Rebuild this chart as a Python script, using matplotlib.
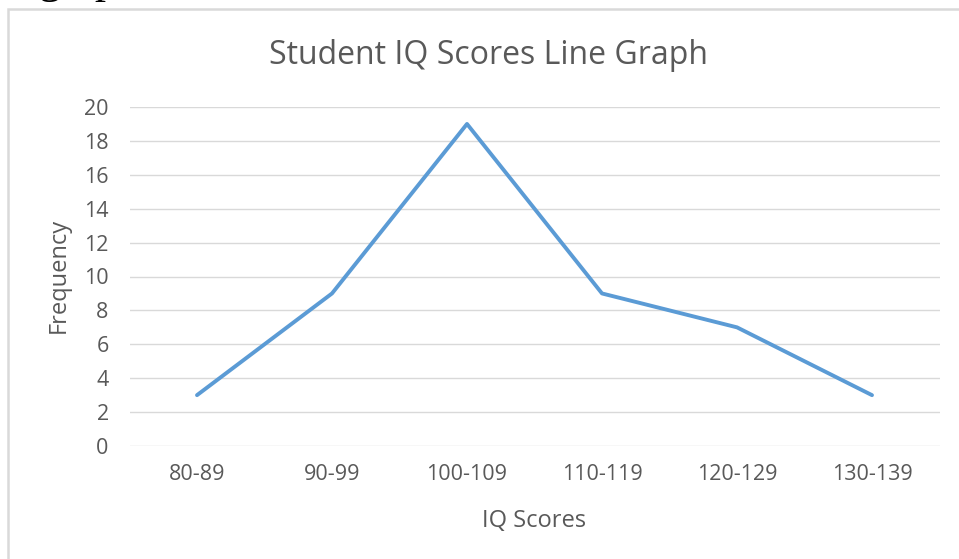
import matplotlib
matplotlib.use("Agg")
import matplotlib.pyplot as plt
from matplotlib.patches import Rectangle

categories = ["80-89", "90-99", "100-109", "110-119", "120-129", "130-139"]
frequency = [3, 9, 19, 9, 7, 3]
yticks = [0, 2, 4, 6, 8, 10, 12, 14, 16, 18, 20]

W, H = 959, 559
fig = plt.figure(figsize=(W / 100, H / 100), dpi=100)
fig.patch.set_facecolor("white")

# chart frame (partially cropped)
fig.patches.append(Rectangle((8 / W, -0.1), 1.2, (H - 9) / H + 0.1, transform=fig.transFigure,
                             fill=False, edgecolor="#d9d9d9", linewidth=1.8))
# cropped text from surrounding document
fig.text(38 / W, 1 + 7 / H, "graph", family="Liberation Serif", fontsize=32,
         color="black", ha="left", va="baseline")

ax = fig.add_axes([129.5 / W, 1 - 446 / H, 810 / W, (446 - 107) / H])
x = list(range(len(categories)))
ax.plot(x, frequency, color="#5b9bd5", linewidth=2.8, solid_joinstyle="round",
        solid_capstyle="round", zorder=3)
ax.set_xlim(-0.5, len(categories) - 0.5)
ax.set_ylim(0, 20)
ax.set_yticks(yticks)
ax.set_xticks(x)
ax.set_xticklabels(categories)
for s in ax.spines.values():
    s.set_visible(False)
ax.grid(axis="y", color="#d9d9d9", linewidth=1.0)
ax.set_axisbelow(True)
ax.tick_params(length=0, colors="#595959", labelsize=15.5)
ax.tick_params(axis="x", pad=13)
ax.tick_params(axis="y", pad=15)
for lab in ax.get_xticklabels() + ax.get_yticklabels():
    lab.set_family("Open Sans")

fig.text(488 / W, 1 - 64 / H, "Student IQ Scores Line Graph", family="Open Sans",
         fontsize=23, color="#595959", ha="center", va="baseline")
fig.text(534 / W, 1 - 527 / H, "IQ Scores", family="Open Sans", fontsize=17,
         color="#595959", ha="center", va="baseline")
fig.text(59 / W, 1 - 275 / H, "Frequency", family="Open Sans", fontsize=17,
         color="#595959", ha="center", va="center", rotation=90)

fig.savefig("out.png", dpi=100, facecolor="white")
